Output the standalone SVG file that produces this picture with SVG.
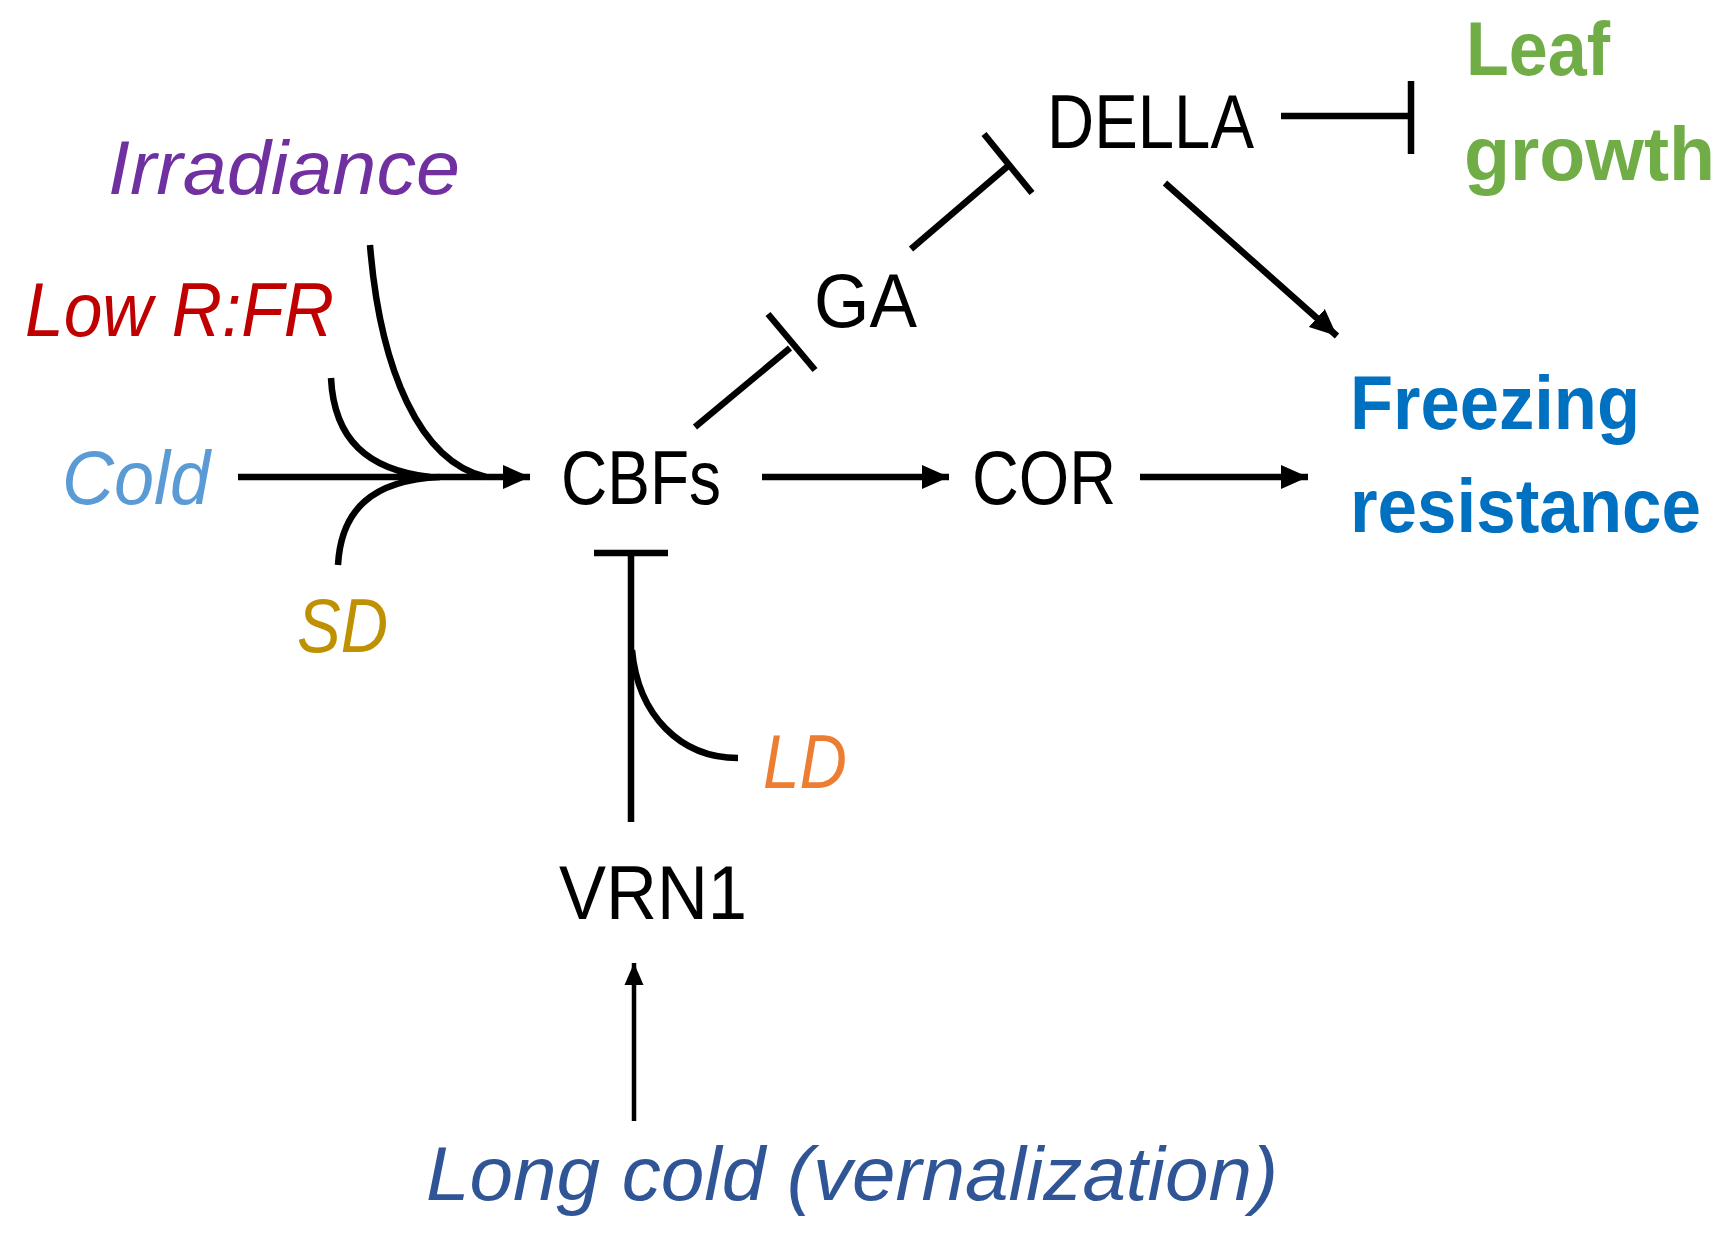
<svg xmlns="http://www.w3.org/2000/svg" width="1734" height="1241" viewBox="0 0 1734 1241">
<style>
text{font-family:"Liberation Sans",Arial,sans-serif;font-size:76px;}
.it{font-style:italic;}
.b{font-weight:bold;}
.k{fill:#000;}
.ln{fill:none;stroke:#000;stroke-width:6.5;}
.thin{fill:none;stroke:#000;stroke-width:4.5;}
</style>
<defs>
<marker id="ah" markerUnits="userSpaceOnUse" markerWidth="30" markerHeight="28" refX="27" refY="13" orient="auto">
<path d="M0,1 L27,13 L0,25 Z" fill="#000"/>
</marker>
<marker id="ahs" markerUnits="userSpaceOnUse" markerWidth="24" markerHeight="22" refX="22" refY="10" orient="auto">
<path d="M0,0.5 L22,10 L0,19.5 Z" fill="#000"/>
</marker>
</defs>
<g id="connectors">
<path class="ln" d="M238,477 L530,477" marker-end="url(#ah)"/>
<path class="ln" d="M370,245 C380,370 420,462 486,477"/>
<path class="ln" d="M331,378 C334,440 368,470 430,477"/>
<path class="ln" d="M338,565 C341,510 372,480 440,477"/>
<path class="ln" d="M695,427 L790,348"/>
<path class="ln" d="M768,314 L815,370"/>
<path class="ln" d="M911,249 L1008,166"/>
<path class="ln" d="M984,134 L1032,193"/>
<path class="ln" d="M1281,116 L1411,116"/>
<path class="ln" d="M1411,81 L1411,154"/>
<path class="ln" d="M1165,183 L1337,336" marker-end="url(#ah)"/>
<path class="ln" d="M762,477 L949,477" marker-end="url(#ah)"/>
<path class="ln" d="M1140,477 L1308,477" marker-end="url(#ah)"/>
<path class="ln" d="M594,553 L668,553"/>
<path class="ln" d="M631,553 L631,822"/>
<path class="ln" d="M632,650 C638,715 680,758 738,758"/>
<path class="thin" d="M634,1121 L634,963" marker-end="url(#ahs)"/>
</g>
<g id="irradiance"><text class="it" x="108" y="194" fill="#7030A0" textLength="352" lengthAdjust="spacingAndGlyphs">Irradiance</text></g>
<g id="lowrfr"><text class="it" x="25" y="336" fill="#C00000" textLength="309" lengthAdjust="spacingAndGlyphs">Low R:FR</text></g>
<g id="cold"><text class="it" x="62" y="504" fill="#5B9BD5" textLength="148" lengthAdjust="spacingAndGlyphs">Cold</text></g>
<g id="sd"><text class="it" x="297" y="652" fill="#BF9000" textLength="91" lengthAdjust="spacingAndGlyphs">SD</text></g>
<g id="cbfs"><text class="k" x="561" y="504" textLength="160" lengthAdjust="spacingAndGlyphs">CBFs</text></g>
<g id="ga"><text class="k" x="814" y="327" textLength="103" lengthAdjust="spacingAndGlyphs">GA</text></g>
<g id="della"><text class="k" x="1047" y="148" textLength="207" lengthAdjust="spacingAndGlyphs">DELLA</text></g>
<g id="leafgrowth">
<text class="b" x="1466" y="75" fill="#70AD47" textLength="144" lengthAdjust="spacingAndGlyphs">Leaf</text>
<text class="b" x="1464" y="180" fill="#70AD47" textLength="251" lengthAdjust="spacingAndGlyphs">growth</text>
</g>
<g id="freezing">
<text class="b" x="1350" y="429" fill="#0070C0" textLength="290" lengthAdjust="spacingAndGlyphs">Freezing</text>
<text class="b" x="1350" y="532" fill="#0070C0" textLength="351" lengthAdjust="spacingAndGlyphs">resistance</text>
</g>
<g id="cor"><text class="k" x="972" y="504" textLength="144" lengthAdjust="spacingAndGlyphs">COR</text></g>
<g id="ld"><text class="it" x="763" y="788" fill="#ED7D31" textLength="84" lengthAdjust="spacingAndGlyphs">LD</text></g>
<g id="vrn1"><text class="k" x="559" y="919" textLength="188" lengthAdjust="spacingAndGlyphs">VRN1</text></g>
<g id="longcold"><text class="it" x="426" y="1200" fill="#2F5597" textLength="852" lengthAdjust="spacingAndGlyphs">Long cold (vernalization)</text></g>
</svg>
